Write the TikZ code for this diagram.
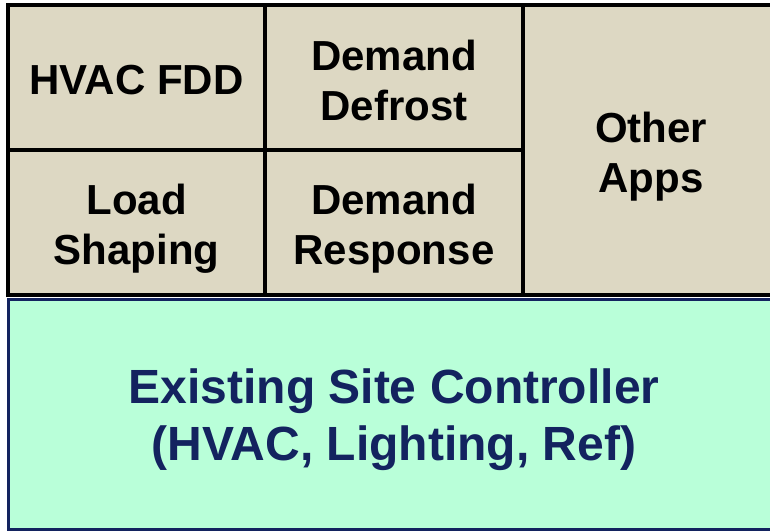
\documentclass[tikz,border=0pt]{standalone}
\usepackage{fontspec}
\setmainfont{Liberation Sans}
\definecolor{apptan}{HTML}{DDD8C3}
\definecolor{ctrlgreen}{HTML}{B9FFD9}
\definecolor{ctrlnavy}{HTML}{13235F}
\begin{document}
\begin{tikzpicture}[x=1pt,y=-1pt,
  appbox/.style={draw=black, line width=4pt, fill=apptan, inner sep=0pt},
  apptext/.style={inner sep=0pt, align=center, text=black,
    font=\bfseries\fontsize{42}{50}\selectfont},
  ctrlbox/.style={draw=ctrlnavy, line width=3pt, fill=ctrlgreen, inner sep=0pt},
  ctrltext/.style={inner sep=0pt, align=center, text=ctrlnavy,
    font=\bfseries\fontsize{48}{57}\selectfont}]
\useasboundingbox (0,0) rectangle (770,530);
\clip (0,0) rectangle (770,530);
% base layer: the site controller
\node[ctrlbox, minimum width=772pt, minimum height=230pt] (ctrl) at (394,414) {};
\node[ctrltext] (ctrltxt) at ([yshift=-6pt]ctrl.center)
  {Existing Site Controller\\(HVAC, Lighting, Ref)};
% application layer
\node[appbox, minimum width=257pt, minimum height=145pt] (fdd) at (136.5,77.5) {};
\node[appbox, minimum width=258pt, minimum height=145pt] (defrost) at (394,77.5) {};
\node[appbox, minimum width=257pt, minimum height=145pt] (load) at (136.5,222.5) {};
\node[appbox, minimum width=258pt, minimum height=145pt] (dr) at (394,222.5) {};
\node[appbox, minimum width=256pt, minimum height=290pt] (other) at (651,150) {};
\node[apptext] (fddtxt) at ([yshift=-3pt]fdd.center) {HVAC FDD};
\node[apptext] (defrosttxt) at ([yshift=-3pt]defrost.center) {Demand\\Defrost};
\node[apptext] (loadtxt) at ([yshift=-6pt]load.center) {Load\\Shaping};
\node[apptext] (drtxt) at ([yshift=-6pt]dr.center) {Demand\\Response};
\node[apptext] (othertxt) at ([yshift=-7pt]other.center) {Other\\Apps};
\end{tikzpicture}
\end{document}
